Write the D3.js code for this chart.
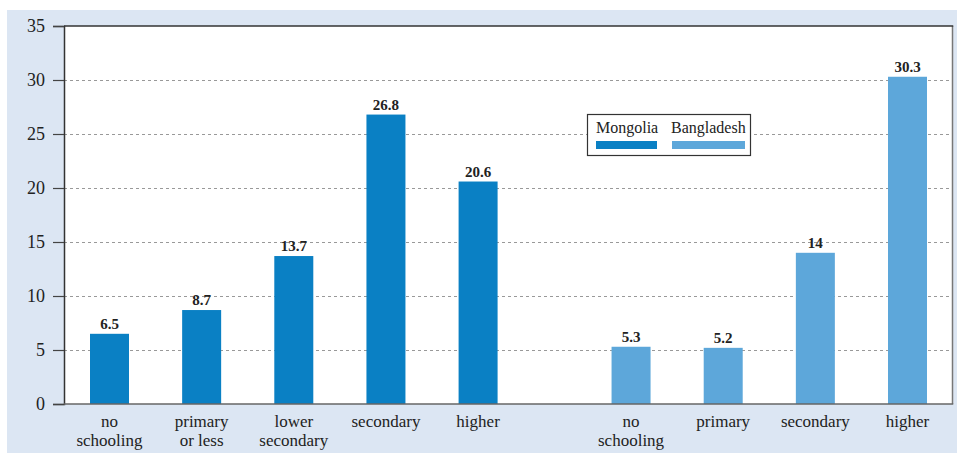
<!DOCTYPE html>
<html><head><meta charset="utf-8">
<script src="https://cdn.jsdelivr.net/npm/d3@7"></script>
<style>body{margin:0;background:#fff}svg{display:block}svg text{font-family:"Liberation Serif","DejaVu Serif",serif}</style>
</head><body><svg id="c" width="957" height="456"></svg>
<script>
const mongoliaCats = [["no","schooling"],["primary","or less"],["lower","secondary"],["secondary"],["higher"]];
const mongoliaVals = [6.5, 8.7, 13.7, 26.8, 20.6];
const bangladeshCats = [["no","schooling"],["primary"],["secondary"],["higher"]];
const bangladeshVals = [5.3, 5.2, 14, 30.3];
const yTicks = [0,5,10,15,20,25,30,35];
const seriesNames = ["Mongolia","Bangladesh"];
const colors = ["#0a80c4","#5da7da"];

const svg = d3.select("#c");
svg.append("rect").attr("x",7).attr("y",10).attr("width",950).attr("height",443).attr("fill","#dce6f3");

const L=64, R=952.5, T=26, B=404;
svg.append("rect").attr("x",L).attr("y",T).attr("width",R-L).attr("height",B-T).attr("fill","#fff");

const y = d3.scaleLinear().domain([0,35]).range([B,T]);
const gap = 0.66;
const x = d3.scaleLinear().domain([0, 8 + gap]).range([109.5, 907.5]);
const bw = 39;

svg.append("g").selectAll("line").data(yTicks.filter(t=>t>0 && t<35)).join("line")
  .attr("x1",L).attr("x2",R).attr("y1",d=>y(d)+0.5).attr("y2",d=>y(d)+0.5)
  .attr("stroke","#999").attr("stroke-dasharray","3,3").attr("stroke-width",1);

const items = [];
mongoliaVals.forEach((v,i)=>items.push({v, pos:i, s:0, cat:mongoliaCats[i]}));
bangladeshVals.forEach((v,i)=>items.push({v, pos:5+gap+i, s:1, cat:bangladeshCats[i]}));

svg.append("g").selectAll("rect").data(items).join("rect")
  .attr("x",d=>x(d.pos)-bw/2).attr("width",bw)
  .attr("y",d=>y(d.v)).attr("height",d=>B-y(d.v))
  .attr("fill",d=>colors[d.s]);

svg.append("g").selectAll("text").data(items).join("text")
  .attr("x",d=>x(d.pos)).attr("y",d=>y(d.v)-5)
  .attr("text-anchor","middle").style("font-weight","bold")
  .style("font-size","15px").attr("fill","#222").text(d=>String(d.v));

const cl = svg.append("g").selectAll("text").data(items).join("text")
  .attr("text-anchor","middle").style("font-size","17px").attr("fill","#222");
cl.each(function(d){
  d3.select(this).selectAll("tspan").data(d.cat).join("tspan")
    .attr("x",x(d.pos)).attr("y",(t,j)=>426.5+j*19).text(t=>t);
});

svg.append("line").attr("x1",R).attr("x2",R).attr("y1",T).attr("y2",B).attr("stroke","#777").attr("stroke-width",1.5);
svg.append("line").attr("x1",L).attr("x2",R+0.75).attr("y1",T).attr("y2",T).attr("stroke","#333").attr("stroke-width",1.5);

const yAxis = d3.axisLeft(y).tickValues(yTicks).tickSize(11).tickPadding(8).tickFormat(d3.format("d"));
const ga = svg.append("g").attr("transform",`translate(${L},0)`).call(yAxis);
ga.attr("font-family",null).attr("font-size",null);
ga.select(".domain").attr("stroke","#333").attr("stroke-width",1.5);
ga.selectAll(".tick line").attr("stroke","#444").attr("stroke-width",1.2);
ga.selectAll(".tick text").style("font-size","18px").attr("fill","#222");

svg.append("line").attr("x1",L).attr("x2",R+0.75).attr("y1",B).attr("y2",B).attr("stroke","#666").attr("stroke-width",1.5);

const lg = svg.append("g");
lg.append("rect").attr("x",587.5).attr("y",114.5).attr("width",163).attr("height",41)
  .attr("fill","#fff").attr("stroke","#333").attr("stroke-width",1.2);
const lx = [596, 671], lw = [61, 73];
seriesNames.forEach((n,i)=>{
  lg.append("text").attr("x",lx[i]).attr("y",133).style("font-size","16px").attr("fill","#222").text(n);
  lg.append("rect").attr("x",lx[i]+(i?1:0)).attr("y",141).attr("width",lw[i]).attr("height",8).attr("fill",colors[i]);
});
</script></body></html>
